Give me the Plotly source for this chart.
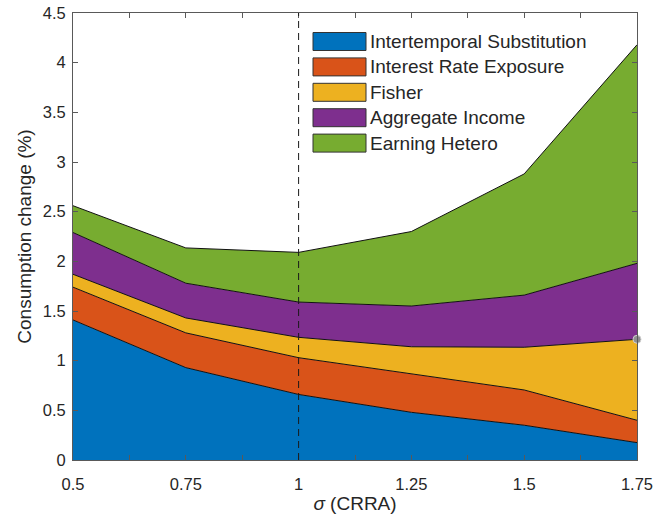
import numpy as np
import plotly.graph_objects as go

# Risk-aversion grid and decomposition of the consumption response (%)
sigma = [0.5, 0.75, 1.0, 1.25, 1.5, 1.75]
intertemporal = [1.41, 0.93, 0.66, 0.48, 0.35, 0.175]
interest_rate = [0.33, 0.35, 0.37, 0.39, 0.355, 0.225]
fisher = [0.13, 0.15, 0.205, 0.27, 0.43, 0.815]
aggregate_income = [0.42, 0.35, 0.355, 0.41, 0.525, 0.765]
earning_hetero = [0.27, 0.355, 0.50, 0.75, 1.22, 2.20]

names = ["Intertemporal Substitution", "Interest Rate Exposure", "Fisher",
         "Aggregate Income", "Earning Hetero"]
series = [intertemporal, interest_rate, fisher, aggregate_income, earning_hetero]
colors = ["#0072BD", "#D95319", "#EDB120", "#7E2F8E", "#77AC30"]

x_ticks = [0.5 + 0.125 * i for i in range(11)]
x_ticklabels = ["0.5", "", "0.75", "", "1", "", "1.25", "", "1.5", "", "1.75"]
y_ticks = [0.5 * i for i in range(10)]
y_ticklabels = ["0", "0.5", "1", "1.5", "2", "2.5", "3", "3.5", "4", "4.5"]

FONT = "Liberation Sans"
TXT = "#262626"
AXIS = "#595959"

fig = go.Figure()
for name, vals, col in zip(names, series, colors):
    fig.add_trace(go.Scatter(
        x=sigma, y=vals, name=name, mode="lines", stackgroup="one",
        line=dict(color="#111111", width=1), fillcolor=col,
        showlegend=False, hoverinfo="x+y+name"))

# data-tip style marker on the Fisher layer at the last grid point
cum = np.cumsum(np.array(series), axis=0)
fig.add_trace(go.Scatter(
    x=[sigma[-1]], y=[cum[2][-1]], mode="markers", showlegend=False,
    marker=dict(color="#8f8f8f", size=8, line=dict(color="#d0d0d0", width=1)),
    cliponaxis=False))

# vertical reference line at log utility
fig.add_shape(type="line", xref="x", yref="y", x0=1, x1=1, y0=0, y1=4.5,
              line=dict(color="#1a1a1a", width=1, dash="7px,5px"), layer="above")

# legend drawn as patches + labels
L, R, T, B = 73, 637, 13, 460
W, H = R - L, B - T
def px(xp):
    return (xp - L) / W
def py(yp):
    return (B - yp) / H

row0, step = 41.5, 25.4
for i, (name, col) in enumerate(zip(names, colors)):
    cy = row0 + step * i
    fig.add_shape(type="rect", xref="paper", yref="paper",
                  x0=px(313), x1=px(366), y0=py(cy + 9), y1=py(cy - 9),
                  fillcolor=col, line=dict(color="#333333", width=1), layer="above")
    fig.add_annotation(xref="paper", yref="paper", x=px(368), y=py(cy),
                       text=name, showarrow=False, xanchor="left", yanchor="middle",
                       font=dict(family=FONT, size=19, color=TXT))

fig.update_xaxes(
    range=[0.5, 1.75], tickvals=x_ticks, ticktext=x_ticklabels,
    ticks="inside", ticklen=5, tickcolor=AXIS, showline=True, linecolor=AXIS,
    linewidth=1, mirror="ticks", showgrid=False, zeroline=False, automargin=False,
    ticklabelstandoff=9,
    tickfont=dict(family=FONT, size=16.5, color=TXT),
    title=dict(text="<i>σ</i> (CRRA)", font=dict(family=FONT, size=19, color=TXT),
               standoff=4))
fig.update_yaxes(
    range=[0, 4.5], tickvals=y_ticks, ticktext=y_ticklabels,
    ticks="inside", ticklen=5, tickcolor=AXIS, showline=True, linecolor=AXIS,
    linewidth=1, mirror="ticks", showgrid=False, zeroline=False, automargin=False,
    ticklabelstandoff=3,
    tickfont=dict(family=FONT, size=16.5, color=TXT),
    title=dict(text="Consumption change (%)", font=dict(family=FONT, size=19, color=TXT),
               standoff=6))

fig.update_layout(
    width=655, height=519, autosize=False,
    margin=dict(l=L, r=655 - R, t=T, b=519 - B),
    paper_bgcolor="white", plot_bgcolor="white",
    showlegend=False, font=dict(family=FONT, color=TXT))

fig.write_html("out.html")
